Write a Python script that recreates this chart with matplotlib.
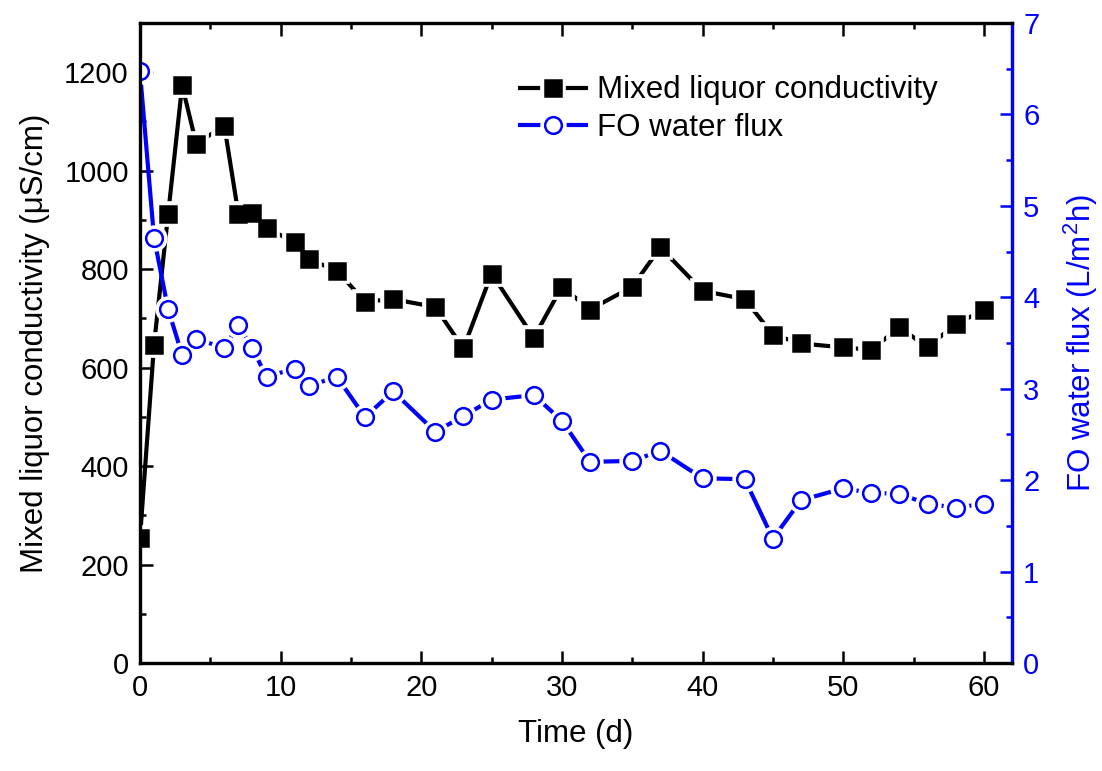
import matplotlib
matplotlib.use("Agg")
import matplotlib.pyplot as plt
from matplotlib.ticker import MultipleLocator
from matplotlib.legend_handler import HandlerTuple

plt.rcParams["font.family"] = ["Liberation Sans", "DejaVu Sans"]
plt.rcParams["mathtext.fontset"] = "custom"
plt.rcParams["mathtext.rm"] = "Liberation Sans"
plt.rcParams["mathtext.it"] = "Liberation Sans:italic"

# Sampling days and measured values
days = [0, 1, 2, 3, 4, 6, 7, 8, 9, 11, 12, 14, 16, 18, 21, 23, 25, 28, 30, 32,
        35, 37, 40, 43, 45, 47, 50, 52, 54, 56, 58, 60]
conductivity = [253, 646, 911, 1173, 1055, 1091, 912, 914, 883, 855, 820, 797,
                734, 739, 723, 639, 791, 661, 764, 718, 764, 844, 756, 739,
                667, 649, 641, 636, 682, 641, 689, 716]
flux = [6.47, 4.65, 3.87, 3.37, 3.54, 3.45, 3.70, 3.44, 3.13, 3.22, 3.03, 3.13,
        2.69, 2.97, 2.53, 2.70, 2.88, 2.93, 2.65, 2.20, 2.21, 2.32, 2.02, 2.01,
        1.36, 1.78, 1.91, 1.86, 1.85, 1.74, 1.70, 1.74]

BLUE = "#0000ff"
LW = 3.0       # connecting line width
SPINE_W = 2.3
MS = 12        # marker size
GAP_MEW = 7    # white halo around markers so lines stop short of them

fig = plt.figure(figsize=(11.02, 7.71), dpi=100)
ax = fig.add_axes([0.127, 0.1401, 0.7913, 0.8301])
ax2 = ax.twinx()


def gapped_series(axis, x, y, color, marker, face):
    line, = axis.plot(x, y, color=color, lw=LW, zorder=2.0,
                      solid_capstyle="butt")
    halo, = axis.plot(x, y, ls="none", marker=marker, ms=MS, mfc="white",
                      mec="white", mew=GAP_MEW, zorder=2.1)
    pts, = axis.plot(x, y, ls="none", marker=marker, ms=MS, mfc=face,
                     mec=color, mew=1.8, zorder=2.2)
    return line, halo, pts


h_cond = gapped_series(ax, days, conductivity, "black", "s", "black")
h_flux = gapped_series(ax2, days, flux, BLUE, "o", "white")

# left axis and shared x axis
ax.set_xlim(0, 62)
ax.set_ylim(0, 1300)
ax.xaxis.set_major_locator(MultipleLocator(10))
ax.xaxis.set_minor_locator(MultipleLocator(5))
ax.yaxis.set_major_locator(MultipleLocator(200))
ax.yaxis.set_minor_locator(MultipleLocator(100))
ax.tick_params(which="both", direction="in", top=True, width=1.8,
               labelsize=21, pad=8)
ax.tick_params(which="major", length=9)
ax.tick_params(which="minor", length=4.5)
ax.set_xlabel("Time (d)", fontsize=22.5, labelpad=12)
ax.set_ylabel("Mixed liquor conductivity (\u03bcS/cm)", fontsize=22.5,
              labelpad=10)
for s in ax.spines.values():
    s.set_linewidth(SPINE_W)

# right axis
ax2.set_ylim(0, 7)
ax2.yaxis.set_major_locator(MultipleLocator(1))
ax2.yaxis.set_minor_locator(MultipleLocator(0.5))
ax2.tick_params(axis="y", which="both", direction="in", color=BLUE,
                labelcolor=BLUE, width=1.8, labelsize=21, pad=8)
ax2.tick_params(axis="y", which="major", length=9)
ax2.tick_params(axis="y", which="minor", length=4.5)
ax2.set_ylabel("FO water flux (L/m$^2$h)", color=BLUE, fontsize=22.5,
               labelpad=16)
for name, s in ax2.spines.items():
    s.set_linewidth(SPINE_W)
    s.set_color(BLUE if name == "right" else "black")

leg = ax2.legend([h_cond, h_flux],
                 ["Mixed liquor conductivity", "FO water flux"],
                 handler_map={tuple: HandlerTuple(ndivide=1, pad=0)},
                 loc="upper left", bbox_to_anchor=(0.433, 0.918),
                 frameon=False, fontsize=22.5, handlelength=2.25,
                 handletextpad=0.3, labelspacing=0.25, borderpad=0,
                 borderaxespad=0)

fig.savefig("out.png", dpi=100)
